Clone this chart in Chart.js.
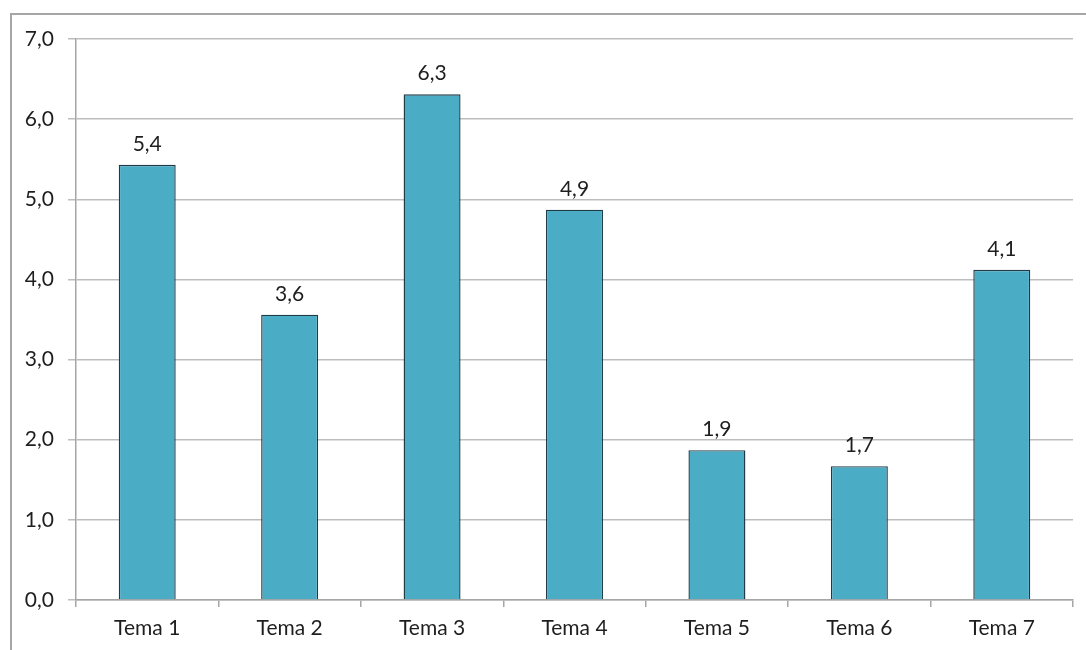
<!DOCTYPE html>
<html>
<head>
<meta charset="utf-8">
<script src="https://cdn.jsdelivr.net/npm/chart.js@4/dist/chart.umd.min.js"></script>
<style>
  html, body { margin: 0; padding: 0; background: #fff; overflow: hidden; }
  #wrap { position: relative; width: 1086px; height: 650px; }
  #frame {
    position: absolute; left: 10px; top: 13px; width: 1100px; height: 700px;
    border-left: 2px solid #a6a6a6; border-top: 2px solid #a6a6a6;
  }
  canvas { position: absolute; left: 0; top: 0; }
</style>
</head>
<body>
<div id="wrap">
  <div id="frame"></div>
  <canvas id="chart" width="1086" height="650"></canvas>
</div>
<script>
  const categories = ['Tema 1', 'Tema 2', 'Tema 3', 'Tema 4', 'Tema 5', 'Tema 6', 'Tema 7'];
  const values = [5.43, 3.56, 6.31, 4.87, 1.87, 1.67, 4.12];
  const yTicks = [0, 1, 2, 3, 4, 5, 6, 7];

  const FONT = 'Lato, "Open Sans", sans-serif';
  const fmtComma = (v) => v.toFixed(1).replace('.', ',');

  // values over the bars
  const barLabels = {
    id: 'barLabels',
    afterDatasetsDraw(chart) {
      const ctx = chart.ctx;
      const meta = chart.getDatasetMeta(0);
      ctx.save();
      ctx.font = '21px ' + FONT;
      ctx.fillStyle = '#1e1e1e';
      ctx.textAlign = 'center';
      ctx.textBaseline = 'alphabetic';
      meta.data.forEach((bar, i) => {
        ctx.fillText(fmtComma(values[i]), bar.x, bar.y - 14);
      });
      ctx.restore();
    }
  };

  new Chart(document.getElementById('chart'), {
    type: 'bar',
    data: {
      labels: categories,
      datasets: [{
        data: values,
        backgroundColor: '#4BACC6',
        borderColor: '#1f3b46',
        borderWidth: 1.4,
        categoryPercentage: 1,
        barPercentage: 0.4,
      }],
    },
    options: {
      responsive: false,
      animation: false,
      devicePixelRatio: 1,
      layout: { padding: { left: 0, top: 39, right: 13, bottom: 0 } },
      plugins: { legend: { display: false }, tooltip: { enabled: false } },
      scales: {
        x: {
          afterFit: (s) => { s.height = 50; },
          grid: { offset: true, drawOnChartArea: false, drawTicks: true, tickLength: 7, color: '#a6a6a6', lineWidth: 1.5 },
          border: { display: true, color: '#a6a6a6', width: 1.5 },
          ticks: { color: '#1e1e1e', font: { family: FONT, size: 21 }, padding: 9 },
        },
        y: {
          min: 0,
          max: 7,
          afterFit: (s) => { s.width = 76; },
          afterBuildTicks: (s) => { s.ticks = yTicks.map(v => ({ value: v })); },
          grid: { color: '#bdbdbd', lineWidth: 1.5, drawTicks: true, tickLength: 8 },
          border: { display: true, color: '#a6a6a6', width: 1.5 },
          ticks: { color: '#1e1e1e', font: { family: FONT, size: 21 }, padding: 14, callback: (v) => fmtComma(v) },
        },
      },
    },
    plugins: [barLabels],
  });
</script>
</body>
</html>
